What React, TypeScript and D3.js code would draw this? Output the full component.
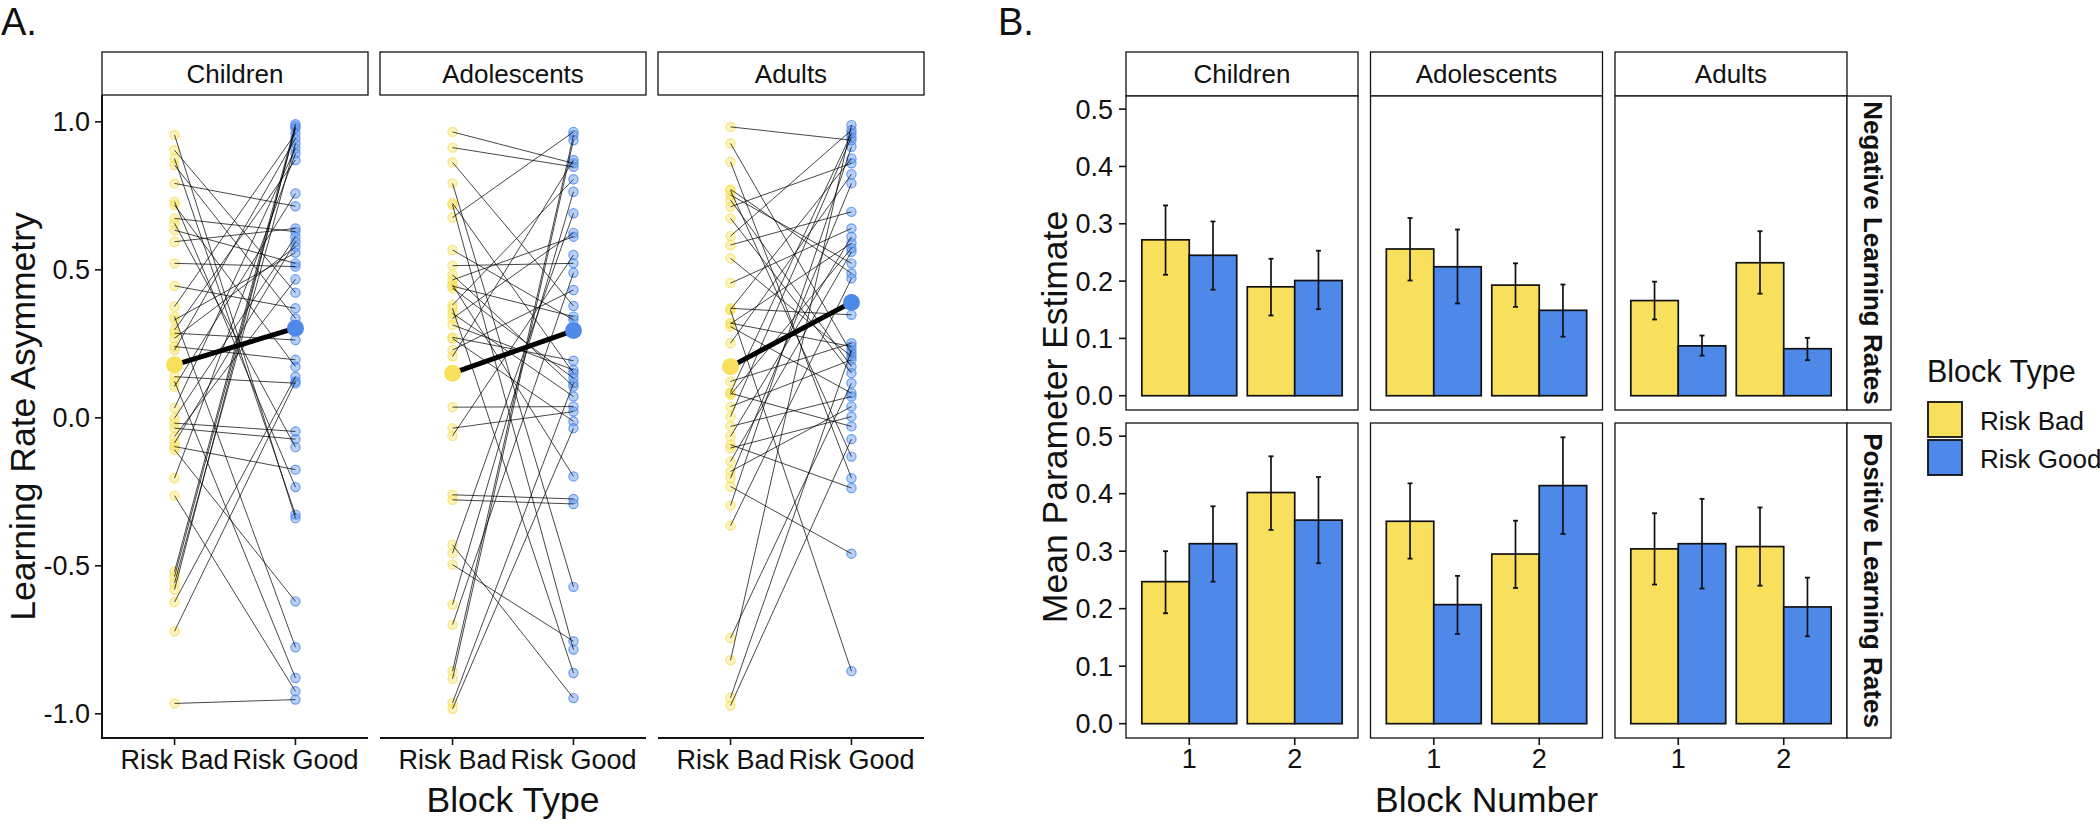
import React from "react";
import * as d3 from "d3";

// ---------- Labels ----------
const ageGroups = ["Children", "Adolescents", "Adults"];
const blockTypes = ["Risk Bad", "Risk Good"];
const blockNumbers = ["1", "2"];
const paramRows = ["Negative Learning Rates", "Positive Learning Rates"];
const yTicksA = [-1.0, -0.5, 0.0, 0.5, 1.0];
const yTicksB = [0, 0.1, 0.2, 0.3, 0.4, 0.5];

// ---------- Panel A: learning rate asymmetry (paired by index) ----------
const childrenRiskBad = [0.956, 0.904, 0.876, 0.854, 0.792, 0.730, 0.719, 0.674, 0.657, 0.634, 0.595, 0.522, 0.446, 0.376, 0.342, 0.331, 0.297, 0.286, 0.269, 0.241, 0.229, 0.139, 0.123, 0.106, 0.033, -0.001, -0.018, -0.035, -0.063, -0.085, -0.097, -0.108, -0.204, -0.263, -0.519, -0.536, -0.558, -0.580, -0.622, -0.721, -0.965];
const childrenRiskGood = [-0.339, 0.423, -0.327, 0.336, 0.715, -0.234, 0.173, 0.629, -0.099, 0.522, 0.640, 0.511, 0.370, 0.961, -0.775, 0.558, 0.871, 0.263, 0.578, 0.196, 0.944, 0.117, -0.879, 0.758, 0.910, 0.612, -0.046, -0.072, 0.468, 0.595, -0.175, -0.620, 0.893, -0.924, 0.992, 0.978, 0.927, 0.985, 0.139, 0.123, -0.952];
const adolescentsRiskBad = [0.966, 0.913, 0.863, 0.792, 0.725, 0.720, 0.677, 0.567, 0.514, 0.483, 0.466, 0.449, 0.445, 0.438, 0.381, 0.370, 0.353, 0.336, 0.314, 0.272, 0.268, 0.229, 0.207, 0.036, -0.035, -0.061, -0.260, -0.277, -0.429, -0.457, -0.496, -0.631, -0.699, -0.856, -0.882, -0.963, -0.983];
const adolescentsRiskGood = [0.860, 0.848, 0.378, -0.571, 0.151, -0.783, 0.966, 0.331, 0.522, 0.106, 0.612, -0.198, 0.342, 0.134, 0.806, -0.862, 0.072, 0.625, 0.162, 0.193, -0.012, 0.432, 0.871, 0.038, 0.021, 0.550, -0.274, -0.291, -0.947, 0.691, -0.755, 0.764, 0.490, 0.955, 0.938, 0.117, -0.035];
const adultsRiskBad = [0.983, 0.927, 0.865, 0.772, 0.768, 0.753, 0.736, 0.713, 0.674, 0.614, 0.584, 0.539, 0.455, 0.370, 0.366, 0.364, 0.320, 0.318, 0.308, 0.252, 0.123, 0.086, 0.083, 0.078, 0.038, 0.004, -0.029, -0.063, -0.091, -0.102, -0.147, -0.181, -0.204, -0.232, -0.296, -0.364, -0.744, -0.819, -0.946, -0.972];
const adultsRiskGood = [0.938, 0.218, -0.204, 0.488, -0.131, 0.522, 0.173, 0.860, 0.151, 0.972, 0.696, 0.207, 0.640, 0.348, 0.876, -0.856, 0.241, 0.590, 0.083, 0.823, 0.252, 0.961, -0.029, 0.573, 0.196, 0.949, 0.072, 0.612, -0.237, 0.004, 0.561, 0.038, 0.792, -0.459, 0.916, 0.471, 0.117, 0.989, 0.229, -0.072];
const groupMeanRiskBad = [0.179, 0.151, 0.173];
const groupMeanRiskGood = [0.303, 0.295, 0.390];

// ---------- Panel B: mean parameter estimates (order: Children b1, b2, Adolescents b1, b2, Adults b1, b2) ----------
const negBadMean = [0.272, 0.190, 0.256, 0.193, 0.166, 0.232];
const negBadLo = [0.211, 0.140, 0.201, 0.155, 0.133, 0.178];
const negBadHi = [0.332, 0.239, 0.310, 0.231, 0.199, 0.287];
const negGoodMean = [0.245, 0.201, 0.225, 0.149, 0.087, 0.082];
const negGoodLo = [0.185, 0.151, 0.161, 0.103, 0.070, 0.062];
const negGoodHi = [0.304, 0.253, 0.290, 0.194, 0.105, 0.101];
const posBadMean = [0.247, 0.402, 0.352, 0.295, 0.304, 0.308];
const posBadLo = [0.192, 0.337, 0.287, 0.236, 0.242, 0.240];
const posBadHi = [0.300, 0.465, 0.418, 0.353, 0.366, 0.376];
const posGoodMean = [0.313, 0.354, 0.207, 0.414, 0.313, 0.203];
const posGoodLo = [0.247, 0.279, 0.156, 0.330, 0.235, 0.152];
const posGoodHi = [0.378, 0.429, 0.257, 0.498, 0.391, 0.254];

// ---------- Styles ----------
const FONT = "'Liberation Sans', Arial, Helvetica, sans-serif";
const YELLOW = "#F8E05C";
const BLUE = "#4E88E8";
const INK = "#111";
const TICK_FS = 27;
const STRIP_FS = 26;
const TITLE_FS = 35.5;

const fmt1 = (v: number) => v.toFixed(1);

export default function App() {
  // ---------------- Panel A ----------------
  const dataA = [
    [childrenRiskBad, childrenRiskGood],
    [adolescentsRiskBad, adolescentsRiskGood],
    [adultsRiskBad, adultsRiskGood],
  ];
  const allA = dataA.flat(2) as number[];
  const [mnA, mxA] = d3.extent(allA) as [number, number];
  const padA = (mxA - mnA) * 0.05;
  const A_TOP = 95, A_BOT = 738, A_W = 266;
  const facetAx = [102, 380, 658];
  const yA = d3.scaleLinear().domain([mnA - padA, mxA + padA]).range([A_BOT, A_TOP]);
  const xA = d3.scaleLinear().domain([0.4, 2.6]).range([0, A_W]);

  // ---------------- Panel B ----------------
  const rowsB = [
    { label: paramRows[0], bad: negBadMean, badLo: negBadLo, badHi: negBadHi, good: negGoodMean, goodLo: negGoodLo, goodHi: negGoodHi, top: 96, bot: 410 },
    { label: paramRows[1], bad: posBadMean, badLo: posBadLo, badHi: posBadHi, good: posGoodMean, goodLo: posGoodLo, goodHi: posGoodHi, top: 423, bot: 738 },
  ];
  const allB = [0, ...negBadHi, ...negGoodHi, ...posBadHi, ...posGoodHi];
  const [mnB, mxB] = d3.extent(allB) as [number, number];
  const padB = (mxB - mnB) * 0.05;
  const B_W = 232;
  const facetBx = [1126, 1370.5, 1615];
  const xB = d3.scaleLinear().domain([0.4, 2.6]).range([0, B_W]);
  const STRIP_R_W = 44;

  return (
    <svg
      width={2100}
      height={824}
      style={{ position: "absolute", left: 0, top: 0, display: "block", background: "white" }}
      fontFamily={FONT}
    >
      <rect x={0} y={0} width={2100} height={824} fill="white" />

      {/* ===== Panel A ===== */}
      <text x={1} y={35} fontSize={38} fill={INK}>A.</text>

      {ageGroups.map((g, i) => {
        const x0 = facetAx[i];
        const [bad, good] = dataA[i];
        return (
          <g key={g} transform={`translate(${x0},0)`}>
            <rect x={0} y={52} width={A_W} height={43} fill="white" stroke={INK} strokeWidth={1.3} />
            <text x={A_W / 2} y={83} textAnchor="middle" fontSize={STRIP_FS} fill={INK}>{g}</text>

            {bad.map((v, j) => (
              <circle key={"b" + j} cx={xA(1)} cy={yA(v)} r={4.6} fill={YELLOW} fillOpacity={0.4} stroke={YELLOW} strokeOpacity={0.8} strokeWidth={1.2} />
            ))}
            {good.map((v, j) => (
              <circle key={"g" + j} cx={xA(2)} cy={yA(v)} r={4.6} fill={BLUE} fillOpacity={0.4} stroke={BLUE} strokeOpacity={0.8} strokeWidth={1.2} />
            ))}
            {bad.map((v, j) => (
              <line key={"l" + j} x1={xA(1)} y1={yA(v)} x2={xA(2)} y2={yA(good[j])} stroke="#000" strokeOpacity={0.72} strokeWidth={1} />
            ))}
            <line x1={xA(1)} y1={yA(groupMeanRiskBad[i])} x2={xA(2)} y2={yA(groupMeanRiskGood[i])} stroke="#000" strokeWidth={5} />
            <circle cx={xA(1)} cy={yA(groupMeanRiskBad[i])} r={8.5} fill={YELLOW} />
            <circle cx={xA(2)} cy={yA(groupMeanRiskGood[i])} r={8.5} fill={BLUE} />

            {/* bottom axis */}
            <line x1={0} x2={A_W} y1={A_BOT} y2={A_BOT} stroke={INK} strokeWidth={2} />
            {blockTypes.map((bt, k) => (
              <g key={bt}>
                <line x1={xA(k + 1)} x2={xA(k + 1)} y1={A_BOT} y2={A_BOT + 7} stroke={INK} strokeWidth={1.6} />
                <text x={xA(k + 1)} y={769} textAnchor="middle" fontSize={TICK_FS} fill={INK}>{bt}</text>
              </g>
            ))}
          </g>
        );
      })}
      {/* left axis A */}
      <line x1={facetAx[0]} x2={facetAx[0]} y1={A_TOP} y2={A_BOT + 1} stroke={INK} strokeWidth={2} />
      {yTicksA.map((t) => (
        <g key={t}>
          <line x1={facetAx[0] - 7} x2={facetAx[0]} y1={yA(t)} y2={yA(t)} stroke={INK} strokeWidth={1.6} />
          <text x={90} y={yA(t) + 9.6} textAnchor="end" fontSize={TICK_FS} fill={INK}>{fmt1(t)}</text>
        </g>
      ))}
      <text x={513} y={812} textAnchor="middle" fontSize={TITLE_FS} fill={INK}>Block Type</text>
      <text transform={`translate(35,${(A_TOP + A_BOT) / 2}) rotate(-90)`} textAnchor="middle" fontSize={TITLE_FS} fill={INK}>
        Learning Rate Asymmetry
      </text>

      {/* ===== Panel B ===== */}
      <text x={998} y={35} fontSize={38} fill={INK}>B.</text>

      {ageGroups.map((g, i) => (
        <g key={"sb" + g} transform={`translate(${facetBx[i]},0)`}>
          <rect x={0} y={52} width={B_W} height={44} fill="white" stroke={INK} strokeWidth={1.3} />
          <text x={B_W / 2} y={83} textAnchor="middle" fontSize={STRIP_FS} fill={INK}>{g}</text>
        </g>
      ))}

      {rowsB.map((row) => {
        const yB = d3.scaleLinear().domain([mnB - padB, mxB + padB]).range([row.bot, row.top]);
        return (
          <g key={row.label}>
            {ageGroups.map((g, i) => (
              <g key={g} transform={`translate(${facetBx[i]},0)`}>
                <rect x={0} y={row.top} width={B_W} height={row.bot - row.top} fill="white" stroke={INK} strokeWidth={1.3} />
                {blockNumbers.map((bn, b) => {
                  const idx = i * 2 + b;
                  const c = b + 1;
                  const bars = [
                    { m: row.bad[idx], lo: row.badLo[idx], hi: row.badHi[idx], x0: c - 0.45, fill: YELLOW },
                    { m: row.good[idx], lo: row.goodLo[idx], hi: row.goodHi[idx], x0: c, fill: BLUE },
                  ];
                  return (
                    <g key={bn}>
                      {bars.map((br, k) => (
                        <rect key={"r" + k} x={xB(br.x0)} y={yB(br.m)} width={xB(br.x0 + 0.45) - xB(br.x0)} height={yB(0) - yB(br.m)} fill={br.fill} stroke={INK} strokeWidth={1.7} />
                      ))}
                      {bars.map((br, k) => {
                        const cx = xB(br.x0 + 0.225);
                        return (
                          <g key={"e" + k}>
                            <line x1={cx} x2={cx} y1={yB(br.lo)} y2={yB(br.hi)} stroke={INK} strokeWidth={1.7} />
                            <line x1={cx - 2.5} x2={cx + 2.5} y1={yB(br.lo)} y2={yB(br.lo)} stroke={INK} strokeWidth={1.8} />
                            <line x1={cx - 2.5} x2={cx + 2.5} y1={yB(br.hi)} y2={yB(br.hi)} stroke={INK} strokeWidth={1.8} />
                          </g>
                        );
                      })}
                    </g>
                  );
                })}
              </g>
            ))}
            {/* right strip */}
            <rect x={facetBx[2] + B_W} y={row.top} width={STRIP_R_W} height={row.bot - row.top} fill="white" stroke={INK} strokeWidth={1.3} />
            <text transform={`translate(${facetBx[2] + B_W + 17},${(row.top + row.bot) / 2}) rotate(90)`} textAnchor="middle" fontSize={STRIP_FS} fontWeight="bold" fill={INK}>
              {row.label}
            </text>
            {/* y axis */}
            {yTicksB.map((t) => (
              <g key={t}>
                <line x1={facetBx[0] - 7} x2={facetBx[0]} y1={yB(t)} y2={yB(t)} stroke={INK} strokeWidth={1.6} />
                <text x={1113} y={yB(t) + 9.6} textAnchor="end" fontSize={TICK_FS} fill={INK}>{fmt1(t)}</text>
              </g>
            ))}
          </g>
        );
      })}

      {/* x axis B */}
      {ageGroups.map((g, i) => (
        <g key={"xb" + g} transform={`translate(${facetBx[i]},0)`}>
          {blockNumbers.map((bn, b) => (
            <g key={bn}>
              <line x1={xB(b + 1)} x2={xB(b + 1)} y1={738} y2={745} stroke={INK} strokeWidth={1.6} />
              <text x={xB(b + 1)} y={768} textAnchor="middle" fontSize={TICK_FS} fill={INK}>{bn}</text>
            </g>
          ))}
        </g>
      ))}
      <text x={(facetBx[0] + facetBx[2] + B_W) / 2} y={812} textAnchor="middle" fontSize={TITLE_FS} fill={INK}>Block Number</text>
      <text transform={`translate(1067,417) rotate(-90)`} textAnchor="middle" fontSize={TITLE_FS} fill={INK}>
        Mean Parameter Estimate
      </text>

      {/* legend */}
      <text x={1927} y={382} fontSize={30.5} fill={INK}>Block Type</text>
      {blockTypes.map((bt, k) => (
        <g key={bt}>
          <rect x={1928} y={402 + k * 38} width={34} height={35} fill={k === 0 ? YELLOW : BLUE} stroke={INK} strokeWidth={1.8} />
          <text x={1980} y={430 + k * 37.5} fontSize={STRIP_FS} fill={INK}>{bt}</text>
        </g>
      ))}
    </svg>
  );
}
